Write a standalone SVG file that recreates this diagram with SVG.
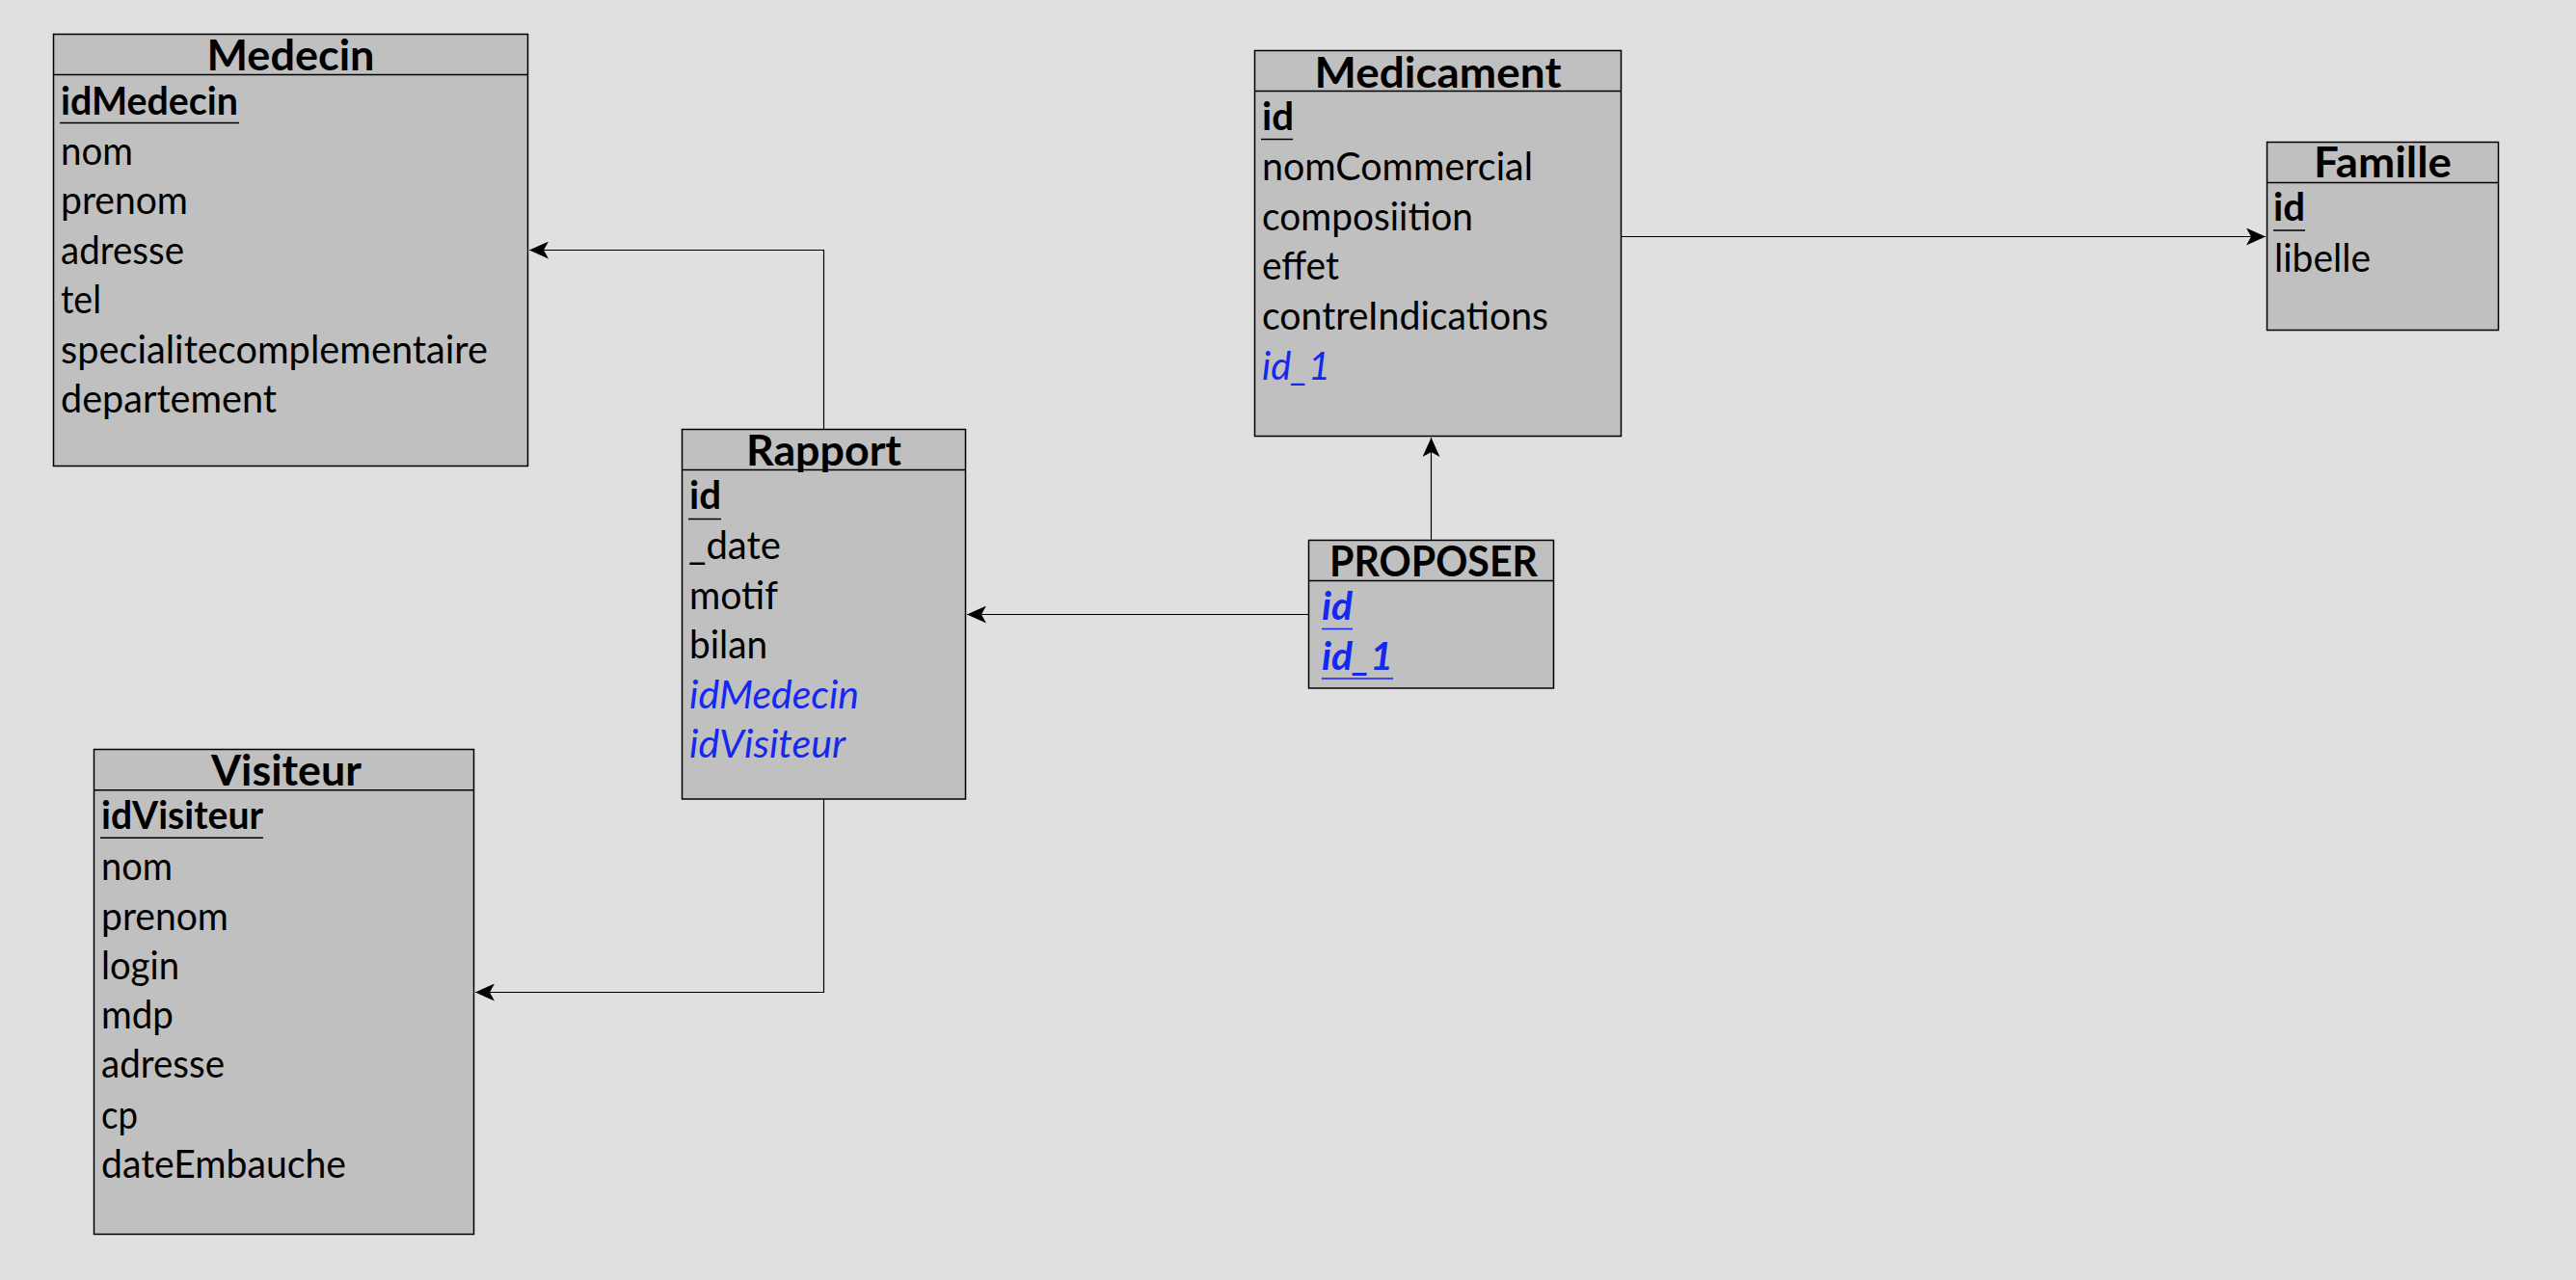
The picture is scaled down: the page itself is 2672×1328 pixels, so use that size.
<svg xmlns="http://www.w3.org/2000/svg" width="2672" height="1328" viewBox="0 0 2672 1328">
<style>
.box{fill:#c0c0c0;stroke:#000;stroke-width:1.5}
.hl{stroke:#000;stroke-width:1.5}
.t{font-family:Lato,"Open Sans","Liberation Sans",sans-serif;font-weight:bold;font-size:43px;fill:#000;text-anchor:middle}
.a{font-family:Lato,"Open Sans","Liberation Sans",sans-serif;font-size:40px;fill:#000}
.k{font-weight:bold}
.fk{font-style:italic;fill:#1428f0}
.ul{stroke:#000;stroke-width:1.5}
.ulb{stroke:#1428f0;stroke-width:1.5}
.c{fill:none;stroke:#000;stroke-width:1.2;marker-end:url(#arr)}
</style>
<defs>
<marker id="arr" viewBox="0 0 20 18" refX="20" refY="9" markerWidth="20" markerHeight="18" markerUnits="userSpaceOnUse" orient="auto">
<path d="M0,0 L20,9 L0,18 L5,9 Z" fill="#000"/>
</marker>
</defs>
<rect x="0" y="0" width="2672" height="1328" fill="#e0e0e0"/>

<g id="connectors">
<path class="c" d="M854.5,445 V259.5 H549"/>
<path class="c" d="M854.5,829 V1029.5 H493"/>
<path class="c" d="M1357,637.5 H1003"/>
<path class="c" d="M1484.5,560 V454"/>
<path class="c" d="M1681.5,245.5 H2350"/>
</g>

<g id="medecin">
<rect class="box" x="55.5" y="35.5" width="492" height="448"/>
<line class="hl" x1="55.5" y1="77.5" x2="547.5" y2="77.5"/>
<text class="t" x="301.5" y="73" textLength="174" lengthAdjust="spacingAndGlyphs">Medecin</text>
<text class="a k" x="63" y="119" textLength="184" lengthAdjust="spacingAndGlyphs">idMedecin</text>
<line class="ul" x1="62" y1="127.5" x2="248" y2="127.5"/>
<text class="a" x="63" y="170.7" textLength="75" lengthAdjust="spacingAndGlyphs">nom</text>
<text class="a" x="63" y="222.3" textLength="132" lengthAdjust="spacingAndGlyphs">prenom</text>
<text class="a" x="63" y="274" textLength="128" lengthAdjust="spacingAndGlyphs">adresse</text>
<text class="a" x="63" y="325" textLength="42" lengthAdjust="spacingAndGlyphs">tel</text>
<text class="a" x="63" y="377.3" textLength="443" lengthAdjust="spacingAndGlyphs">specialitecomplementaire</text>
<text class="a" x="63" y="428.3" textLength="224" lengthAdjust="spacingAndGlyphs">departement</text>
</g>

<g id="medicament">
<rect class="box" x="1301.5" y="52.5" width="380" height="400"/>
<line class="hl" x1="1301.5" y1="94.5" x2="1681.5" y2="94.5"/>
<text class="t" x="1491.5" y="90.7" textLength="256" lengthAdjust="spacingAndGlyphs">Medicament</text>
<text class="a k" x="1309" y="135" textLength="33" lengthAdjust="spacingAndGlyphs">id</text>
<line class="ul" x1="1308" y1="144.5" x2="1341" y2="144.5"/>
<text class="a" x="1309" y="187.3" textLength="281" lengthAdjust="spacingAndGlyphs">nomCommercial</text>
<text class="a" x="1309" y="239.3" textLength="219" lengthAdjust="spacingAndGlyphs">composiition</text>
<text class="a" x="1309" y="290" textLength="80" lengthAdjust="spacingAndGlyphs">effet</text>
<text class="a" x="1309" y="341.7" textLength="297" lengthAdjust="spacingAndGlyphs">contreIndications</text>
<text class="a fk" x="1309" y="394.3" textLength="71" lengthAdjust="spacingAndGlyphs">id_1</text>
</g>

<g id="famille">
<rect class="box" x="2351.5" y="147.5" width="240" height="195"/>
<line class="hl" x1="2351.5" y1="189.5" x2="2591.5" y2="189.5"/>
<text class="t" x="2471.5" y="184.3" textLength="143" lengthAdjust="spacingAndGlyphs">Famille</text>
<text class="a k" x="2358" y="229.3" textLength="33" lengthAdjust="spacingAndGlyphs">id</text>
<line class="ul" x1="2358" y1="239" x2="2391" y2="239"/>
<text class="a" x="2359" y="281.7" textLength="100" lengthAdjust="spacingAndGlyphs">libelle</text>
</g>

<g id="rapport">
<rect class="box" x="707.5" y="445.5" width="294" height="383.5"/>
<line class="hl" x1="707.5" y1="487.5" x2="1001.5" y2="487.5"/>
<text class="t" x="854.5" y="483.3" textLength="161" lengthAdjust="spacingAndGlyphs">Rapport</text>
<text class="a k" x="715" y="528.3" textLength="33" lengthAdjust="spacingAndGlyphs">id</text>
<line class="ul" x1="714" y1="538.5" x2="748" y2="538.5"/>
<text class="a" x="714" y="580" textLength="96" lengthAdjust="spacingAndGlyphs">_date</text>
<text class="a" x="715" y="631.7" textLength="92" lengthAdjust="spacingAndGlyphs">motif</text>
<text class="a" x="715" y="683.3" textLength="81" lengthAdjust="spacingAndGlyphs">bilan</text>
<text class="a fk" x="715" y="735" textLength="176" lengthAdjust="spacingAndGlyphs">idMedecin</text>
<text class="a fk" x="715" y="786" textLength="162" lengthAdjust="spacingAndGlyphs">idVisiteur</text>
</g>

<g id="proposer">
<rect class="box" x="1357.5" y="560.5" width="254" height="153.5"/>
<line class="hl" x1="1357.5" y1="602.5" x2="1611.5" y2="602.5"/>
<text class="t" x="1487" y="598.3" textLength="216" lengthAdjust="spacingAndGlyphs">PROPOSER</text>
<text class="a k fk" x="1371" y="642.7" textLength="32" lengthAdjust="spacingAndGlyphs">id</text>
<line class="ulb" x1="1371" y1="652.5" x2="1403" y2="652.5"/>
<text class="a k fk" x="1371" y="695" textLength="74" lengthAdjust="spacingAndGlyphs">id_1</text>
<line class="ulb" x1="1371" y1="704" x2="1445" y2="704"/>
</g>

<g id="visiteur">
<rect class="box" x="97.5" y="777.5" width="394" height="503"/>
<line class="hl" x1="97.5" y1="819.8" x2="491.5" y2="819.8"/>
<text class="t" x="297" y="815" textLength="156" lengthAdjust="spacingAndGlyphs">Visiteur</text>
<text class="a k" x="105" y="860.4" textLength="168" lengthAdjust="spacingAndGlyphs">idVisiteur</text>
<line class="ul" x1="104" y1="869.2" x2="273" y2="869.2"/>
<text class="a" x="105" y="912.8" textLength="74" lengthAdjust="spacingAndGlyphs">nom</text>
<text class="a" x="105" y="964.5" textLength="132" lengthAdjust="spacingAndGlyphs">prenom</text>
<text class="a" x="105" y="1015.9" textLength="81" lengthAdjust="spacingAndGlyphs">login</text>
<text class="a" x="105" y="1066.9" textLength="75" lengthAdjust="spacingAndGlyphs">mdp</text>
<text class="a" x="105" y="1118.3" textLength="128" lengthAdjust="spacingAndGlyphs">adresse</text>
<text class="a" x="105" y="1170.5" textLength="38" lengthAdjust="spacingAndGlyphs">cp</text>
<text class="a" x="105" y="1222.4" textLength="254" lengthAdjust="spacingAndGlyphs">dateEmbauche</text>
</g>
</svg>
